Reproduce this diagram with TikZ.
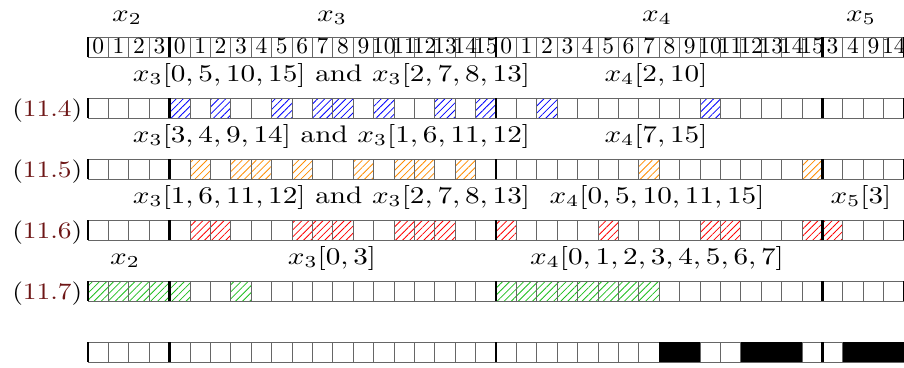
\documentclass[tikz,border=0pt]{standalone}
\usepackage{graphicx}
\usetikzlibrary{patterns.meta}
\definecolor{eqred}{RGB}{110,22,22}
\definecolor{hblue}{RGB}{0,0,255}
\definecolor{horange}{RGB}{255,140,0}
\definecolor{hred}{RGB}{255,0,0}
\definecolor{hgreen}{RGB}{30,190,30}
\newcommand{\sx}[1]{\scalebox{2.92}[2.4]{#1}}
\newcommand{\eqn}[1]{\scalebox{2.74}[2.35]{(\textcolor{eqred}{#1})}}
\tikzset{
  cellline/.style={draw=black!60, line width=0.9pt},
  thickbar/.style={draw=black, line width=2.6pt},
  hatch/.style={pattern={Lines[angle=45,distance=5pt,line width=0.8pt]}, pattern color=#1},
  lbl/.style={inner sep=0pt, anchor=base},
  eqlbl/.style={inner sep=0pt, anchor=base east},
  hdr/.style={inner sep=0pt, anchor=base},
}
% #1 = top y, #2 = fill style, #3 = list of filled cells
\newcommand{\cellrow}[3]{%
  \foreach \i in {#3} \fill[#2] (88+20.4*\i,#1) rectangle ++(20.4,20);
  \foreach \i in {0,...,39} \draw[cellline] (88+20.4*\i,#1) rectangle ++(20.4,20);
  \foreach \i in {0,4,20,36,40} \draw[thickbar] (88+20.4*\i,#1) -- ++(0,20);
}
\begin{document}
\begin{tikzpicture}[x=1pt,y=-1pt]
\useasboundingbox (0,0) rectangle (904,367);
% top labels
\node[lbl] (tx2) at (127,21) {\sx{$x_2$}};
\node[lbl] (tx3) at (332,21) {\sx{$x_3$}};
\node[lbl] (tx4) at (657,21) {\sx{$x_4$}};
\node[lbl] (tx5) at (861,21) {\sx{$x_5$}};
% header row
\cellrow{37}{fill=white}{0}
\foreach \d [count=\k from 0] in {0,1,2,3,0,1,2,3,4,5,6,7,8,9,10,11,12,13,14,15,0,1,2,3,4,5,6,7,8,9,10,11,12,13,14,15,3,4,9,14}
  \node[hdr] (h\k) at (98.2+20.4*\k,53) {\scalebox{2.35}[2.3]{\d}};
% row 11.4
\node[eqlbl] (e4) at (82.5,116) {\eqn{11.4}};
\node[lbl] (a4) at (331.5,81) {\sx{$x_3[0,5,10,15]$ and $x_3[2,7,8,13]$}};
\node[lbl] (b4) at (656,81) {\sx{$x_4[2,10]$}};
\cellrow{98}{hatch=hblue}{4,6,9,11,12,14,17,19,22,30}
% row 11.5
\node[eqlbl] (e5) at (82.5,177) {\eqn{11.5}};
\node[lbl] (a5) at (331.5,142) {\sx{$x_3[3,4,9,14]$ and $x_3[1,6,11,12]$}};
\node[lbl] (b5) at (656,142) {\sx{$x_4[7,15]$}};
\cellrow{159}{hatch=horange}{5,7,8,10,13,15,16,18,27,35}
% row 11.6
\node[eqlbl] (e6) at (82.5,238) {\eqn{11.6}};
\node[lbl] (a6) at (331.5,203) {\sx{$x_3[1,6,11,12]$ and $x_3[2,7,8,13]$}};
\node[lbl] (b6) at (657,203) {\sx{$x_4[0,5,10,11,15]$}};
\node[lbl] (c6) at (861,203) {\sx{$x_5[3]$}};
\cellrow{220}{hatch=hred}{5,6,10,11,12,15,16,17,20,25,30,31,35,36}
% row 11.7
\node[eqlbl] (e7) at (82.5,299) {\eqn{11.7}};
\node[lbl] (a7) at (125,264) {\sx{$x_2$}};
\node[lbl] (b7) at (332,264) {\sx{$x_3[0,3]$}};
\node[lbl] (c7) at (657,264) {\sx{$x_4[0,1,2,3,4,5,6,7]$}};
\cellrow{281}{hatch=hgreen}{0,1,2,3,4,7,20,21,22,23,24,25,26,27}
% bottom row
\cellrow{342}{fill=white}{0}
\fill[black] (88+20.4*28,342) rectangle (88+20.4*30,362);
\fill[black] (88+20.4*32,342) rectangle (88+20.4*35,362);
\fill[black] (88+20.4*37,342) rectangle (88+20.4*40,362);
\end{tikzpicture}
\end{document}
